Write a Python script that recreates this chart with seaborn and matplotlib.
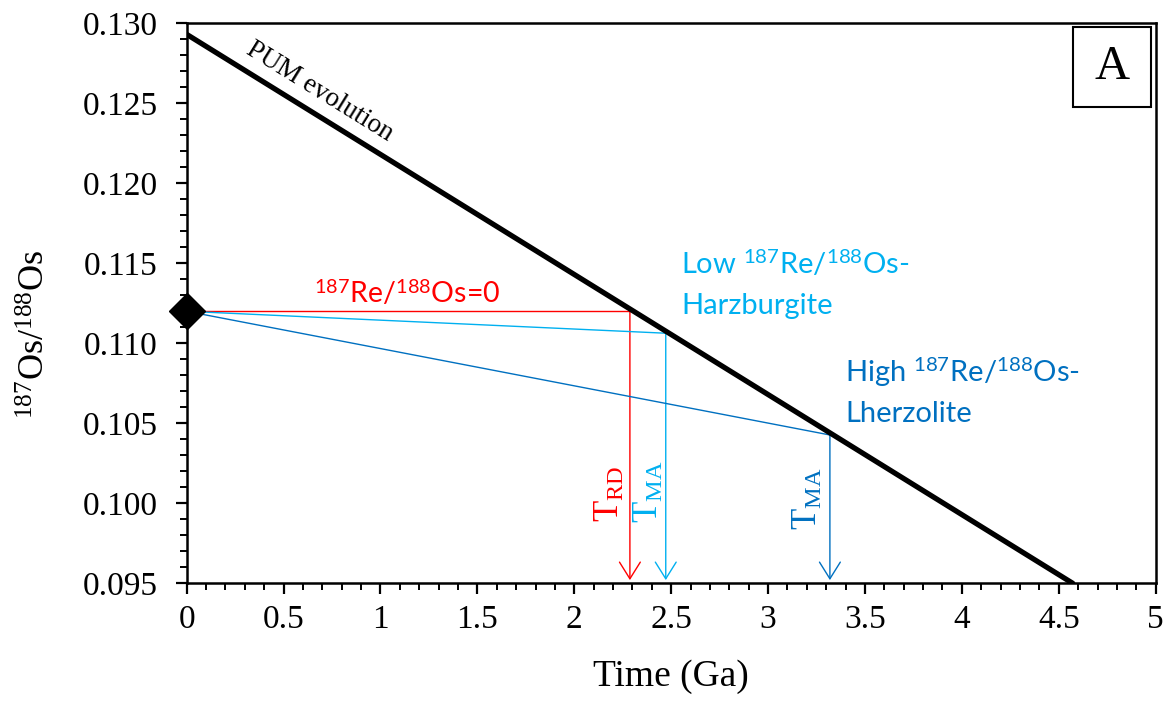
import numpy as np
import pandas as pd
import matplotlib
matplotlib.use("Agg")
import matplotlib.pyplot as plt
import seaborn as sns
from matplotlib.patches import Rectangle
from matplotlib.ticker import MultipleLocator

# ---------------- data ----------------
pum_time = [0.0, 4.572]
pum_os = [0.12931, 0.0950]

sample_time = [0.0]
sample_os = [0.1120]

model_names = ["TRD", "TMA_low", "TMA_high"]
model_age = [2.287, 2.472, 3.319]
model_os = [0.1120, 0.11063, 0.10427]

x_ticks = [0, 0.5, 1, 1.5, 2, 2.5, 3, 3.5, 4, 4.5, 5]
x_tick_labels = ["0", "0.5", "1", "1.5", "2", "2.5", "3", "3.5", "4", "4.5", "5"]
y_ticks = [0.095, 0.100, 0.105, 0.110, 0.115, 0.120, 0.125, 0.130]
y_tick_labels = ["0.095", "0.100", "0.105", "0.110", "0.115", "0.120", "0.125", "0.130"]

# ---------------- style ----------------
sns.set_theme(style="ticks")
plt.rcParams["font.family"] = ["Liberation Serif", "DejaVu Serif"]
plt.rcParams["mathtext.fontset"] = "custom"
plt.rcParams["mathtext.rm"] = "Liberation Serif"
plt.rcParams["mathtext.sf"] = "Lato"
plt.rcParams["mathtext.it"] = "Liberation Serif:italic"
plt.rcParams["mathtext.bf"] = "Liberation Serif:bold"
for k in ["text.color", "axes.labelcolor", "xtick.color", "ytick.color",
          "xtick.labelcolor", "ytick.labelcolor", "axes.edgecolor"]:
    plt.rcParams[k] = "black"

RED = "#FF0000"
LBLUE = "#00B0F0"
DBLUE = "#0070C0"
model_colors = [RED, LBLUE, DBLUE]
SANS = ["Lato", "DejaVu Sans"]

fig = plt.figure(figsize=(11.69, 7.07), dpi=100)
ax = fig.add_axes([0.1597, 0.17497, 0.8289, 0.79207])

ax.set_xlim(x_ticks[0], x_ticks[-1])
ax.set_ylim(y_ticks[0], y_ticks[-1])

# model lines from sample to PUM curve
for t, o, c in zip(model_age, model_os, model_colors):
    df = pd.DataFrame({"t": [sample_time[0], t], "os": [sample_os[0], o]})
    sns.lineplot(data=df, x="t", y="os", ax=ax, color=c, lw=1.0, zorder=3)
    ax.annotate("", xy=(t, y_ticks[0] + 0.0002), xytext=(t, o),
                arrowprops=dict(arrowstyle="->,head_length=0.4,head_width=0.25",
                                color=c, lw=1.0, shrinkA=0, shrinkB=0,
                                mutation_scale=30), zorder=3)

# PUM evolution line
pum_df = pd.DataFrame({"t": pum_time, "os": pum_os})
sns.lineplot(data=pum_df, x="t", y="os", ax=ax, color="black", lw=3.8, zorder=4)

# sample diamond
ax.plot(sample_time, sample_os, marker="D", markersize=18, color="black",
        linestyle="none", zorder=6, clip_on=False)

# ---------------- axes styling ----------------
ax.set_xticks(x_ticks)
ax.set_xticklabels(x_tick_labels)
ax.set_yticks(y_ticks)
ax.set_yticklabels(y_tick_labels)
ax.xaxis.set_minor_locator(MultipleLocator(0.1))
ax.yaxis.set_minor_locator(MultipleLocator(0.001))
ax.tick_params(axis="both", which="major", direction="out", length=8, width=1.6,
               labelsize=24, top=False, right=False, color="black", labelcolor="black")
ax.tick_params(axis="both", which="minor", direction="out", length=5, width=1.4,
               top=False, right=False, color="black")
ax.tick_params(axis="y", which="major", pad=13)
ax.tick_params(axis="x", which="major", pad=7)
for s in ax.spines.values():
    s.set_visible(True)
    s.set_linewidth(1.8)
    s.set_color("black")

ax.set_xlabel("Time (Ga)", fontsize=27, labelpad=18, color="black")
ax.set_ylabel(r"$^{\mathrm{187}}$Os/$^{\mathrm{188}}$Os", fontsize=26, color="black")
ax.yaxis.set_label_coords(-0.138, 0.445)

# ---------------- annotations ----------------
p0 = ax.transData.transform((pum_time[0], pum_os[0]))
p1 = ax.transData.transform((pum_time[1], pum_os[1]))
ang = np.degrees(np.arctan2(p1[1] - p0[1], p1[0] - p0[0]))
ax.text(0.684, 0.12575, "PUM evolution", fontsize=19.5, rotation=ang,
        rotation_mode="anchor", ha="center", va="center", color="black")

ax.text(1.139, 0.11254, r"$^{\mathsf{187}}$Re/$^{\mathsf{188}}$Os=0", fontsize=20.5,
        color=RED, ha="center", va="baseline", family=SANS)

ax.text(2.553, 0.11431, r"Low $^{\mathsf{187}}$Re/$^{\mathsf{188}}$Os-", fontsize=21,
        color=LBLUE, ha="left", va="baseline", family=SANS)
ax.text(2.553, 0.11185, "Harzburgite", fontsize=21,
        color=LBLUE, ha="left", va="baseline", family=SANS)

ax.text(3.397, 0.10760, r"High $^{\mathsf{187}}$Re/$^{\mathsf{188}}$Os-", fontsize=21,
        color=DBLUE, ha="left", va="baseline", family=SANS)
ax.text(3.397, 0.10510, "Lherzolite", fontsize=21,
        color=DBLUE, ha="left", va="baseline", family=SANS)

ax.text(2.272, 0.09883, r"T$_{\mathrm{RD}}$", fontsize=25, rotation=90,
        color=RED, ha="right", va="bottom")
ax.text(2.473, 0.09877, r"T$_{\mathrm{MA}}$", fontsize=25, rotation=90,
        color=LBLUE, ha="right", va="bottom")
ax.text(3.294, 0.09833, r"T$_{\mathrm{MA}}$", fontsize=25, rotation=90,
        color=DBLUE, ha="right", va="bottom")

# panel label box
ax.add_patch(Rectangle((0.9147, 0.8505), 0.0804, 0.1429, transform=ax.transAxes,
                       fill=False, lw=1.5, edgecolor="black", zorder=7))
ax.text(0.9549, 0.922, "A", transform=ax.transAxes, fontsize=35,
        ha="center", va="center", color="black", zorder=8)

fig.savefig("out.png", dpi=100)
